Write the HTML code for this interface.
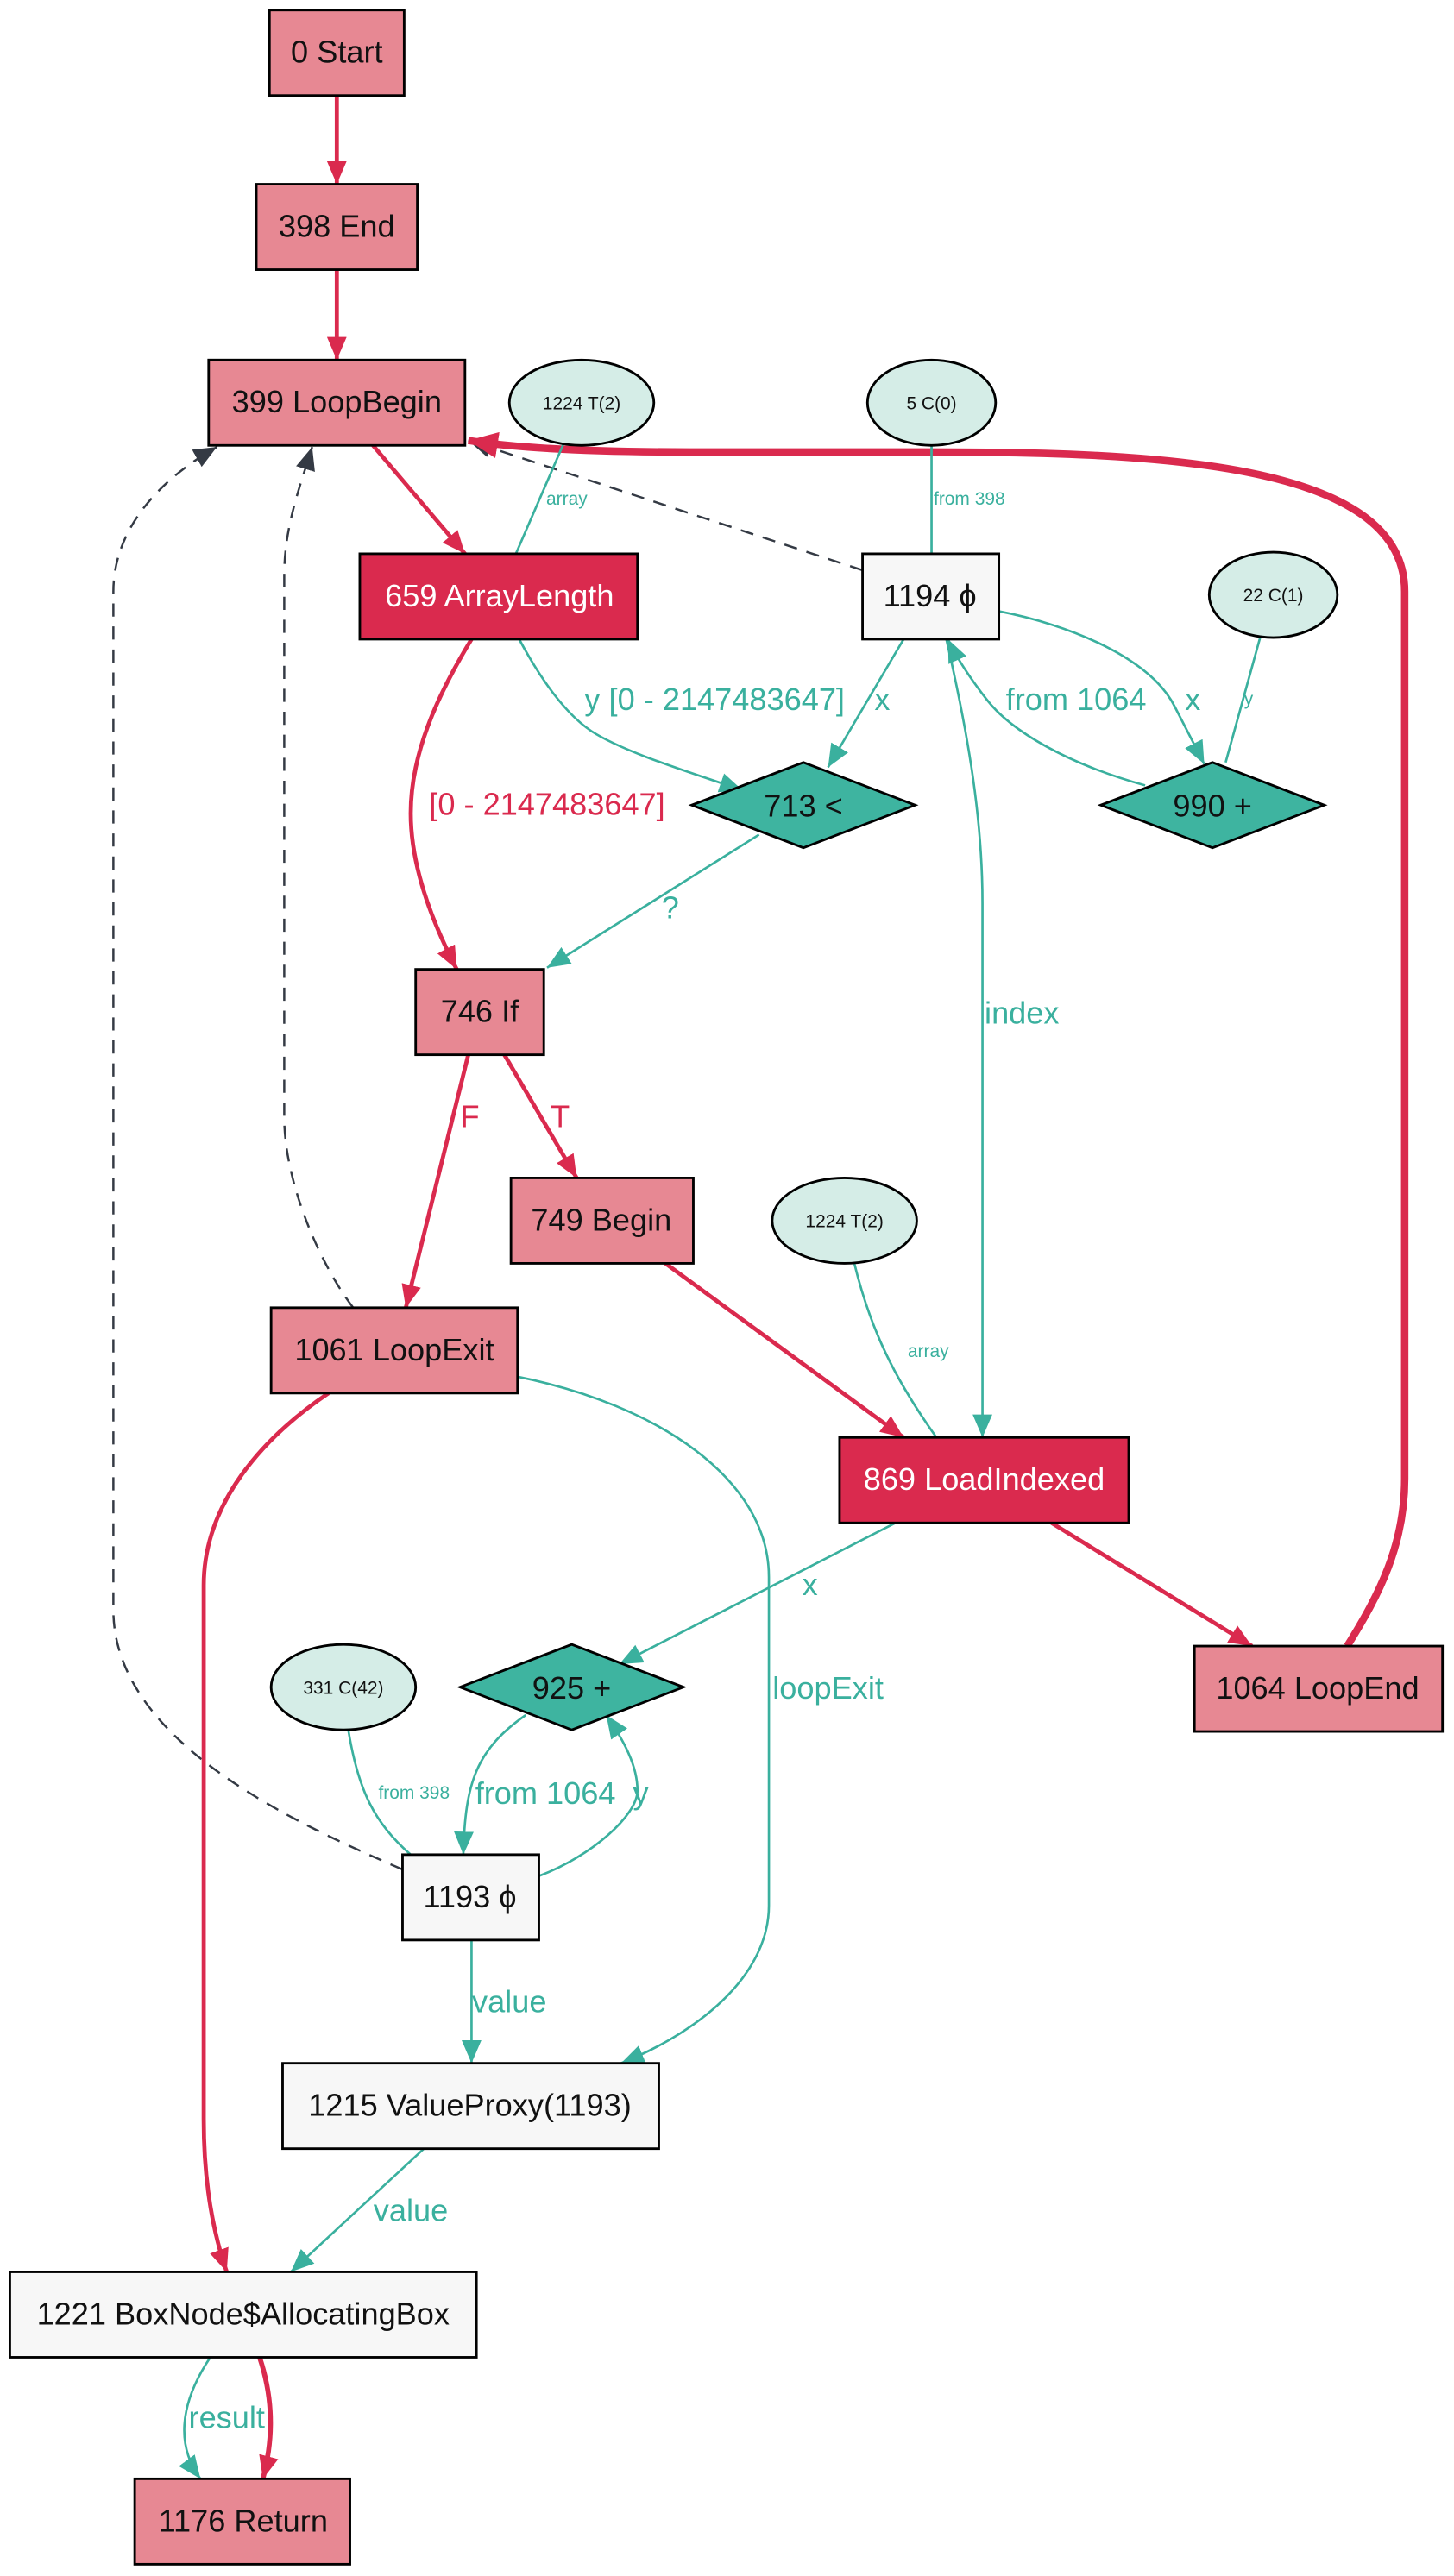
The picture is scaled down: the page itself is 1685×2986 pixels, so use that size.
<!DOCTYPE html>
<html><head><meta charset="utf-8"><style>
html,body{margin:0;padding:0;background:#fff;}
svg{display:block;}
text{font-family:"Liberation Sans",sans-serif;}
</style></head><body>
<svg width="1685" height="2986" viewBox="0 0 885 1568" xmlns="http://www.w3.org/2000/svg">
<defs>
<marker id="r" markerUnits="userSpaceOnUse" markerWidth="16" markerHeight="12" refX="14" refY="6" orient="auto"><path d="M0,0 L14,6 L0,12 z" fill="#DA2A4E"/></marker>
<marker id="t" markerUnits="userSpaceOnUse" markerWidth="16" markerHeight="12" refX="14" refY="6" orient="auto"><path d="M0,0 L14,6 L0,12 z" fill="#3AB09E"/></marker>
<marker id="d" markerUnits="userSpaceOnUse" markerWidth="16" markerHeight="12" refX="14" refY="6" orient="auto"><path d="M0,0 L14,6 L0,12 z" fill="#343A44"/></marker>
<marker id="rb" markerUnits="userSpaceOnUse" markerWidth="20" markerHeight="16" refX="18" refY="8" orient="auto"><path d="M0,0 L18,8 L0,16 z" fill="#DA2A4E"/></marker>
</defs>
<g fill="none">
<!-- dashed -->
<path d="M525,347 L285,268" stroke="#343A44" stroke-width="1.3" stroke-dasharray="8,6" marker-end="url(#d)"/>
<path d="M215,796 C195,770 173,720 173,680 L173,350 C173,320 183,295 190,272" stroke="#343A44" stroke-width="1.3" stroke-dasharray="8,6" marker-end="url(#d)"/>
<path d="M245,1138 C180,1110 69,1060 69,980 L69,360 C69,320 100,290 132,272" stroke="#343A44" stroke-width="1.3" stroke-dasharray="8,6" marker-end="url(#d)"/>
<!-- red -->
<path d="M205,58 L205,112" stroke="#DA2A4E" stroke-width="2.5" marker-end="url(#r)"/>
<path d="M205,164 L205,219" stroke="#DA2A4E" stroke-width="2.5" marker-end="url(#r)"/>
<path d="M227,271 L283,337" stroke="#DA2A4E" stroke-width="2.5" marker-end="url(#r)"/>
<path d="M820,1002 C840,970 855,940 855,900 L855,360 C855,280 700,275 560,275 L420,275 C350,275 310,272 285,268" stroke="#DA2A4E" stroke-width="4.5" marker-end="url(#rb)"/>
<path d="M287,389 C265,425 250,460 250,495 C250,530 265,565 278,590" stroke="#DA2A4E" stroke-width="2.5" marker-end="url(#r)"/>
<path d="M307,642 L351,717" stroke="#DA2A4E" stroke-width="2.5" marker-end="url(#r)"/>
<path d="M285,642 L247,796" stroke="#DA2A4E" stroke-width="2.5" marker-end="url(#r)"/>
<path d="M405,769 L550,875" stroke="#DA2A4E" stroke-width="2.5" marker-end="url(#r)"/>
<path d="M640,927 L762,1002" stroke="#DA2A4E" stroke-width="2.5" marker-end="url(#r)"/>
<path d="M200,848 C160,875 124,915 124,965 L124,1290 C124,1330 130,1360 138,1383" stroke="#DA2A4E" stroke-width="2.5" marker-end="url(#r)"/>
<path d="M158,1435 C168,1465 165,1490 160,1509" stroke="#DA2A4E" stroke-width="3" marker-end="url(#r)"/>
<!-- teal -->
<g stroke="#3AB09E" stroke-width="1.4">
<path d="M343,270 L314,337"/>
<path d="M567,271 L567,337"/>
<path d="M316,389 C330,415 345,435 360,445 C380,458 420,470 452,481" marker-end="url(#t)"/>
<path d="M550,389 L504,467" marker-end="url(#t)"/>
<path d="M462,508 L333,589" marker-end="url(#t)"/>
<path d="M608,372 C650,380 700,400 715,430 L733,465" marker-end="url(#t)"/>
<path d="M767,388 L746,464"/>
<path d="M697,478 C650,465 615,445 600,425 C590,412 582,400 577,389" marker-end="url(#t)"/>
<path d="M576,389 C590,450 598,500 598,550 L598,875" marker-end="url(#t)"/>
<path d="M520,769 C530,810 545,840 570,875"/>
<path d="M545,927 L377,1013" marker-end="url(#t)"/>
<path d="M315,838 C400,855 468,900 468,960 L468,1160 C468,1200 430,1235 378,1256" marker-end="url(#t)"/>
<path d="M212,1053 C218,1090 228,1110 250,1129"/>
<path d="M320,1044 C290,1065 283,1085 282,1129" marker-end="url(#t)"/>
<path d="M328,1142 C360,1130 388,1105 388,1090 C388,1075 380,1060 369,1044" marker-end="url(#t)"/>
<path d="M287,1181 L287,1256" marker-end="url(#t)"/>
<path d="M258,1308 L177,1383" marker-end="url(#t)"/>
<path d="M128,1435 C108,1465 108,1490 122,1509" marker-end="url(#t)"/>
</g>
</g>
<!-- edge labels -->
<g fill="#3AB09E" font-size="19">
<text x="435" y="432" text-anchor="middle">y [0 - 2147483647]</text>
<text x="537" y="432" text-anchor="middle">x</text>
<text x="408" y="559" text-anchor="middle">?</text>
<text x="726" y="432" text-anchor="middle">x</text>
<text x="655" y="432" text-anchor="middle">from 1064</text>
<text x="622" y="623" text-anchor="middle">index</text>
<text x="493" y="971" text-anchor="middle">x</text>
<text x="504" y="1034" text-anchor="middle">loopExit</text>
<text x="332" y="1098" text-anchor="middle">from 1064</text>
<text x="390" y="1098" text-anchor="middle">y</text>
<text x="310" y="1225" text-anchor="middle">value</text>
<text x="250" y="1352" text-anchor="middle">value</text>
<text x="138" y="1478" text-anchor="middle">result</text>
</g>
<g fill="#3AB09E" font-size="11">
<text x="345" y="307" text-anchor="middle">array</text>
<text x="590" y="307" text-anchor="middle">from 398</text>
<text x="760" y="429" text-anchor="middle">y</text>
<text x="565" y="826" text-anchor="middle">array</text>
<text x="252" y="1095" text-anchor="middle">from 398</text>
</g>
<g fill="#DA2A4E" font-size="19">
<text x="333" y="496" text-anchor="middle">[0 - 2147483647]</text>
<text x="341" y="686" text-anchor="middle">T</text>
<text x="286" y="686" text-anchor="middle">F</text>
</g>
<!-- nodes -->
<g stroke="#000" stroke-width="1.5">
<rect x="164" y="6" width="82" height="52" fill="#E78893"/>
<rect x="156" y="112" width="98" height="52" fill="#E78893"/>
<rect x="127" y="219" width="156" height="52" fill="#E78893"/>
<ellipse cx="354" cy="245" rx="44" ry="26" fill="#D5EDE7"/>
<ellipse cx="567" cy="245" rx="39" ry="26" fill="#D5EDE7"/>
<rect x="219" y="337" width="169" height="52" fill="#DA2A4E"/>
<rect x="525" y="337" width="83" height="52" fill="#F7F7F7"/>
<ellipse cx="775" cy="362" rx="39" ry="26" fill="#D5EDE7"/>
<polygon points="421,490 489,464 557,490 489,516" fill="#3EB4A0"/>
<polygon points="670,490 738,464 806,490 738,516" fill="#3EB4A0"/>
<rect x="253" y="590" width="78" height="52" fill="#E78893"/>
<rect x="311" y="717" width="111" height="52" fill="#E78893"/>
<ellipse cx="514" cy="743" rx="44" ry="26" fill="#D5EDE7"/>
<rect x="165" y="796" width="150" height="52" fill="#E78893"/>
<rect x="511" y="875" width="176" height="52" fill="#DA2A4E"/>
<rect x="727" y="1002" width="151" height="52" fill="#E78893"/>
<polygon points="280,1027 348,1001 416,1027 348,1053" fill="#3EB4A0"/>
<ellipse cx="209" cy="1027" rx="44" ry="26" fill="#D5EDE7"/>
<rect x="245" y="1129" width="83" height="52" fill="#F7F7F7"/>
<rect x="172" y="1256" width="229" height="52" fill="#F7F7F7"/>
<rect x="6" y="1383" width="284" height="52" fill="#F7F7F7"/>
<rect x="82" y="1509" width="131" height="52" fill="#E78893"/>
</g>
<g fill="#111" font-size="19" text-anchor="middle">
<text x="205" y="38">0 Start</text>
<text x="205" y="144">398 End</text>
<text x="205" y="251">399 LoopBegin</text>
<text x="304" y="369" fill="#fff">659 ArrayLength</text>
<text x="566" y="369">1194 ϕ</text>
<text x="489" y="497">713 &lt;</text>
<text x="738" y="497">990 +</text>
<text x="292" y="622">746 If</text>
<text x="366" y="749">749 Begin</text>
<text x="240" y="828">1061 LoopExit</text>
<text x="599" y="907" fill="#fff">869 LoadIndexed</text>
<text x="802" y="1034">1064 LoopEnd</text>
<text x="348" y="1034">925 +</text>
<text x="286" y="1161">1193 ϕ</text>
<text x="286" y="1288">1215 ValueProxy(1193)</text>
<text x="148" y="1415">1221 BoxNode$AllocatingBox</text>
<text x="148" y="1541">1176 Return</text>
</g>
<g fill="#111" font-size="11" text-anchor="middle">
<text x="354" y="249">1224 T(2)</text>
<text x="567" y="249">5 C(0)</text>
<text x="775" y="366">22 C(1)</text>
<text x="514" y="747">1224 T(2)</text>
<text x="209" y="1031">331 C(42)</text>
</g>
</svg>
</body></html>
